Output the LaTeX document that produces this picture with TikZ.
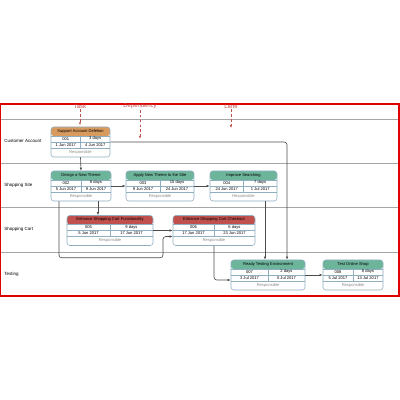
\documentclass[tikz,border=0pt]{standalone}
\usepackage{fontspec}
\setmainfont{Liberation Sans}
\usepackage{xcolor}
\usetikzlibrary{positioning,arrows.meta,calc}

\definecolor{hdOrange}{HTML}{D99A5E}
\definecolor{hdGreen}{HTML}{6DB59A}
\definecolor{hdRed}{HTML}{C0504D}
\definecolor{boxLine}{HTML}{8FAFC0}
\definecolor{laneLine}{HTML}{A6A6A6}
\definecolor{noteRed}{HTML}{C0504D}
\definecolor{frameRed}{HTML}{E00000}

% one task card: name, position, width, header colour, title, id, duration, start, end
\newcommand{\taskbox}[9]{%
  \node[task, minimum width=#3*0.025cm,
    path picture={\fill[#4] (path picture bounding box.north west) rectangle ($(path picture bounding box.north east)+(0,9)$);}]
    (#1) at #2 {};
  \draw[cell] ($(#1.north west)+(0,9)$) -- ($(#1.north east)+(0,9)$)
    ($(#1.north west)+(0,15)$) -- ($(#1.north east)+(0,15)$)
    ($(#1.north west)+(0,21)$) -- ($(#1.north east)+(0,21)$)
    ($(#1.north)+(0,9)$) -- ($(#1.north)+(0,21)$);
  \node[txt] (#1-t) at ($(#1.north)+(0,4.5)$) {#5};
  \node[txt] (#1-id) at ($(#1.north)+(-#3/4,12)$) {#6};
  \node[txt] (#1-d) at ($(#1.north)+(#3/4,12)$) {#7};
  \node[txt] (#1-s) at ($(#1.north)+(-#3/4,18)$) {#8};
  \node[txt] (#1-e) at ($(#1.north)+(#3/4,18)$) {#9};
  \node[txt, text=black!45] (#1-r) at ($(#1.north)+(0,25.5)$) {Responsible};
}

\begin{document}
\begin{tikzpicture}[
  x=0.025cm, y=-0.025cm,
  task/.style={draw=boxLine, line width=0.4pt, rounded corners=2pt, fill=white, inner sep=0pt, minimum height=0.75cm},
  cell/.style={draw=boxLine, line width=0.3pt},
  txt/.style={font=\fontsize{2.9}{3.2}\selectfont, inner sep=0pt},
  lanelab/.style={font=\fontsize{3.2}{3.6}\selectfont, inner sep=0pt, anchor=west},
  lane/.style={draw=laneLine, line width=0.5pt},
  dep/.style={-{Latex[length=2.2pt,width=1.8pt]}, draw=black!70, line width=0.45pt, rounded corners=2pt},
  note/.style={-{Latex[length=2pt,width=1.6pt]}, draw=noteRed, line width=0.5pt, dash pattern=on 2pt off 1.5pt},
  notelab/.style={font=\fontsize{4.2}{4.6}\selectfont, text=noteRed, inner sep=0.5pt}]

\useasboundingbox (0,0) rectangle (400,400);

% lanes
\draw[lane] (0,119) -- (399,119);
\draw[lane] (0,163) -- (399,163);
\draw[lane] (0,207) -- (399,207);
\draw[lane] (0,252) -- (399,252);
\node[lanelab] (laneA) at (4,141) {Customer Account};
\node[lanelab] (laneS) at (4,185) {Shopping Site};
\node[lanelab] (laneC) at (4,229) {Shopping Cart};
\node[lanelab] (laneT) at (4,274) {Testing};

% tasks
\taskbox{acct}{(80.5,142)}{59}{hdOrange}{Support Account Deletion}{001}{3 days}{1 Jun 2017}{4 Jun 2017}
\taskbox{design}{(81,186)}{60}{hdGreen}{Design a New Theme}{002}{8 days}{5 Jun 2017}{9 Jun 2017}
\taskbox{apply}{(160,186)}{68}{hdGreen}{Apply New Theme to the Site}{003}{15 days}{9 Jun 2017}{24 Jun 2017}
\taskbox{search}{(243.5,186)}{67}{hdGreen}{Improve Searching}{004}{7 days}{24 Jun 2017}{1 Jul 2017}
\taskbox{cartfn}{(110,230.5)}{86}{hdRed}{Enhance Shopping Cart Functionality}{005}{9 days}{5 Jun 2017}{17 Jun 2017}
\taskbox{checkout}{(214,230.5)}{82}{hdRed}{Enhance Shopping Cart Checkout}{006}{6 days}{17 Jun 2017}{23 Jun 2017}
\taskbox{ready}{(268,275)}{74}{hdGreen}{Ready Testing Environment}{007}{2 days}{3 Jul 2017}{5 Jul 2017}
\taskbox{shop}{(353,275)}{60}{hdGreen}{Test Online Shop}{008}{8 days}{5 Jul 2017}{13 Jul 2017}

% dependencies
\draw[dep] (acct.east) -| ($(ready.north)+(19,0)$);
\draw[dep] (acct.south) -- (design.north);
\draw[dep] (design.east) -- (apply.west);
\draw[dep] (apply.east) -- (search.west);
\draw[dep] ($(design.south)+(17,0)$) coordinate (d1) -- (d1 |- cartfn.north);
\draw[dep] ($(design.south)+(-22,0)$) |- ($(cartfn.south)+(53,12)$) |- ($(checkout.west)+(0,6)$);
\draw[dep] (cartfn.east) -- (cartfn.east -| checkout.west);
\draw[dep] ($(search.south)+(21.5,0)$) coordinate (s1) -- (s1 |- ready.north);
\draw[dep] (checkout.south) |- ($(ready.west)+(0,5)$);
\draw[dep] (ready.east) -- (shop.west);

% frame and callouts
\draw[frameRed, line width=1pt] (0.6,104) rectangle (399,296);
\node[notelab] (lTask) at (80,106) {Task};
\node[notelab] (lDep) at (140,106) {Dependency};
\node[notelab] (lLane) at (231,106) {Lane};
\draw[note] (lTask.south) -- ++(0,16);
\draw[note] (lDep.south) -- ++(0,29);
\draw[note] (lLane.south) -- ++(0,19);
\end{tikzpicture}
\end{document}
